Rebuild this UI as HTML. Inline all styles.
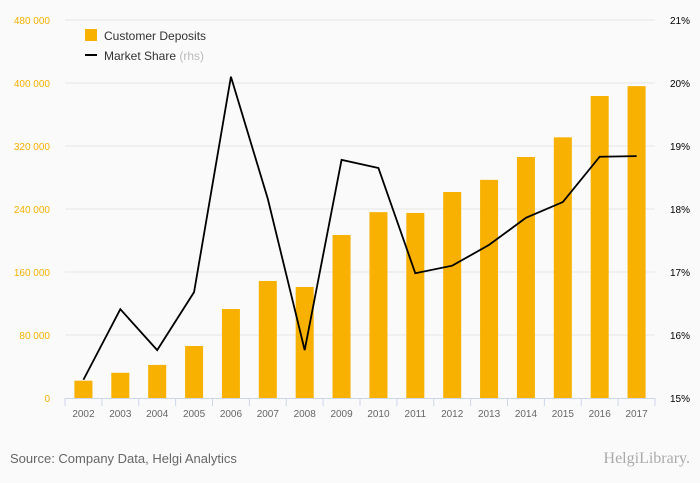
<!DOCTYPE html>
<html><head><meta charset="utf-8"><style>
body{margin:0;background:#fafafa;}
svg{display:block;font-family:"Liberation Sans",sans-serif;}
</style></head><body>
<svg id="chart" width="700" height="483">
<rect width="700" height="483" fill="#fafafa"/>
<g id="grid"></g><g id="bars"></g><g id="axes"></g><g id="line"></g>
<g>
<rect x="85" y="29" width="12" height="12" fill="#f8b100"/>
<text x="104" y="40" font-size="12" fill="#333">Customer Deposits</text>
<line x1="85" y1="55" x2="97" y2="55" stroke="#000" stroke-width="2"/>
<text x="104" y="60" font-size="12" fill="#333">Market Share <tspan fill="#bbb">(rhs)</tspan></text>
</g>
<text x="10" y="463" font-size="13" fill="#666">Source: Company Data, Helgi Analytics</text>
<text x="690" y="463" font-size="16" fill="#aaa" text-anchor="end" font-family="Liberation Serif,serif">HelgiLibrary.</text>
</svg>
<script>
const years=["2002","2003","2004","2005","2006","2007","2008","2009","2010","2011","2012","2013","2014","2015","2016","2017"];
const deposits=[22000,32000,42000,66000,113000,148600,141000,207000,236000,235000,261600,277000,306000,331000,383500,396000];
const share=[15.29,16.41,15.76,16.68,20.10,18.16,15.76,18.78,18.65,16.98,17.10,17.43,17.86,18.11,18.83,18.84];
const leftTicks=[0,80000,160000,240000,320000,400000,480000];
const rightTicks=[15,16,17,18,19,20,21];
const NS="http://www.w3.org/2000/svg";
const x0=65,x1=655,yb=398,yt=20;
const step=(x1-x0)/years.length;
const xc=i=>x0+step*(i+0.5);
const yL=v=>yb-(v/480000)*(yb-yt);
const yR=v=>yb-((v-15)/6)*(yb-yt);
function mk(t,a,p){const e=document.createElementNS(NS,t);for(const k in a)e.setAttribute(k,a[k]);p.appendChild(e);return e;}
const grid=document.getElementById('grid'),bars=document.getElementById('bars'),axes=document.getElementById('axes'),line=document.getElementById('line');
leftTicks.forEach(v=>{
 const y=yL(v);
 if(v>0){const g=mk('line',{x1:x0,x2:x1,y1:y,y2:y,stroke:'#e6e6e6'},grid);
 
 }
 const t=mk('text',{x:50,y:y+4,'font-size':10,fill:'#f8b100','text-anchor':'end'},axes);
 t.textContent=v===0?'0':(v/1000)+' 000';
 
 
});
rightTicks.forEach(v=>{
 const t=mk('text',{x:690,y:yR(v)+4,'font-size':10,fill:'#000','text-anchor':'end'},axes);
 t.textContent=v+'%';
 
 
});
const ax=mk('line',{x1:x0,x2:x1,y1:yb+0.5,y2:yb+0.5,stroke:'#ccd6eb'},axes);


for(let i=0;i<=years.length;i++){
 const x=x0+step*i;
 const tk=mk('line',{x1:x,x2:x,y1:yb,y2:yb+8,stroke:'#ccd6eb'},axes);
 
 
}
years.forEach((yr,i)=>{
 const b=mk('rect',{x:xc(i)-9,y:yL(deposits[i]),width:18,height:yb-yL(deposits[i]),fill:'#f8b100'},bars);
 
 
 const t=mk('text',{x:xc(i),y:417,'font-size':10,fill:'#666','text-anchor':'middle'},axes);
 t.textContent=yr;
 
 
});
const pl=mk('polyline',{points:share.map((v,i)=>xc(i)+','+yR(v)).join(' '),fill:'none',stroke:'#000','stroke-width':1.8},line);


</script>
</body></html>
